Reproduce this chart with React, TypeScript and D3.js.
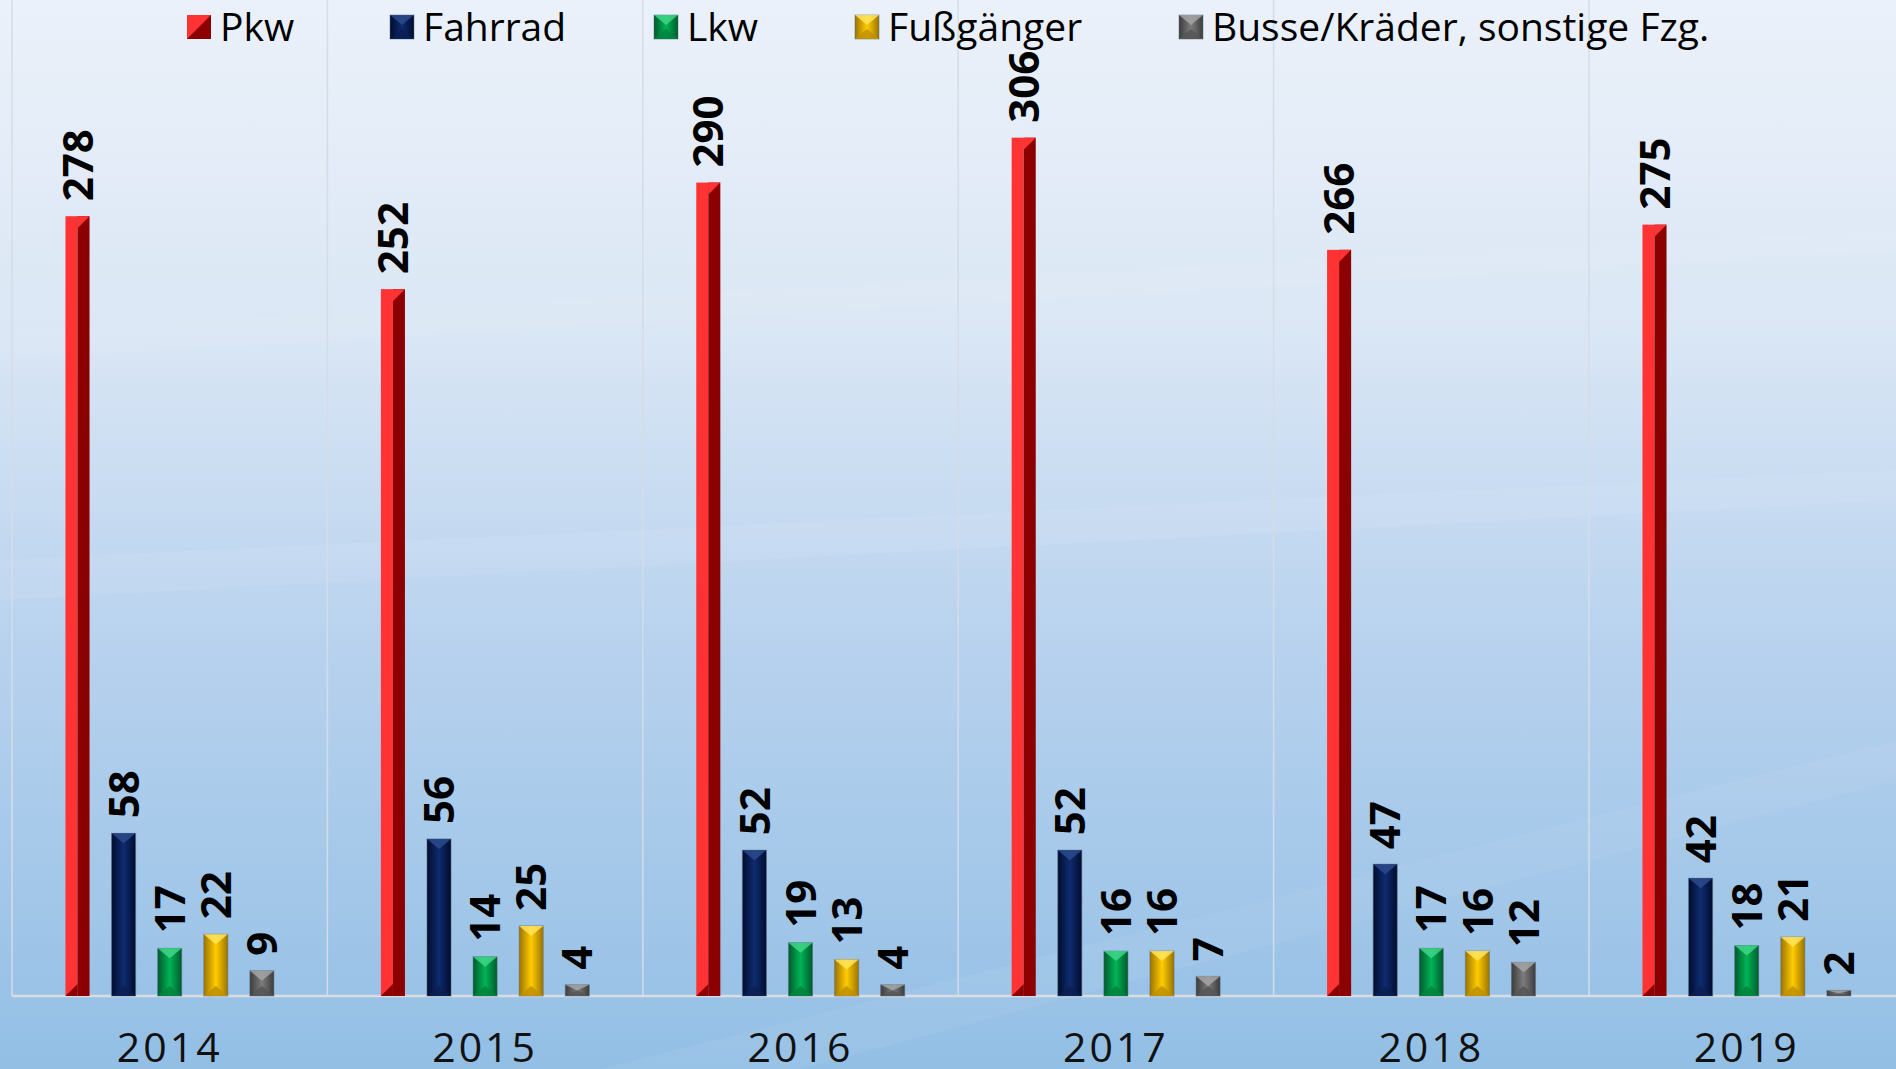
import React from "react";
import * as d3 from "d3";

const years = ["2014", "2015", "2016", "2017", "2018", "2019"];
const seriesNames = ["Pkw", "Fahrrad", "Lkw", "Fußgänger", "Busse/Kräder, sonstige Fzg."];
const pkw = [278, 252, 290, 306, 266, 275];
const fahrrad = [58, 56, 52, 52, 47, 42];
const lkw = [17, 14, 19, 16, 17, 18];
const fussgaenger = [22, 25, 13, 16, 16, 21];
const busse = [9, 4, 4, 7, 12, 2];
const seriesValues = [pkw, fahrrad, lkw, fussgaenger, busse];

// edge, middle, top facet, bottom facet
const palette = [
  { edge: "#8b0000", mid: "#ff3333", top: "#ff3333", bottom: "#8b0000" },
  { edge: "#000c2e", mid: "#0f2c70", top: "#2b4a8c", bottom: "#0a1e52" },
  { edge: "#005a2c", mid: "#00b456", top: "#3fd688", bottom: "#00823e" },
  { edge: "#9c7400", mid: "#ffcc00", top: "#ffe45a", bottom: "#c09000" },
  { edge: "#3c3c3c", mid: "#7c7c7c", top: "#a4a4a4", bottom: "#555555" },
];

const W = 1896;
const H = 1069;
const base = 996;
const left = 12;
const groupW = 315.4;
const legendX = [187, 390, 654, 855, 1179];

const x0 = d3.scaleBand<string>().domain(years).range([left, left + groupW * years.length]).padding(0);
const x1 = d3
  .scaleBand<number>()
  .domain(d3.range(seriesNames.length))
  .range([0, groupW])
  .paddingInner(0.478)
  .paddingOuter(1.16);
const y = d3.scaleLinear().domain([0, 350]).range([base, base - 350 * 2.805]);

function RedBar({ x, top, w, bottom }: { x: number; top: number; w: number; bottom: number }) {
  const h = bottom - top;
  const b = Math.min(w / 2, h / 2);
  const m = x + w / 2;
  return (
    <g>
      <rect x={x} y={top} width={w / 2} height={h} fill="#ff3333" />
      <rect x={m} y={top} width={w / 2} height={h} fill="#8b0000" />
      <polygon points={`${m},${top} ${x + w},${top} ${m},${top + b}`} fill="#ff3333" />
      <polygon points={`${x},${bottom} ${m},${bottom - b} ${m},${bottom}`} fill="#8b0000" />
    </g>
  );
}

function BevelBar({ i, x, top, w, bottom }: { i: number; x: number; top: number; w: number; bottom: number }) {
  const c = palette[i];
  const h = bottom - top;
  const b = Math.min(10, h / 2);
  const m = x + w / 2;
  return (
    <g>
      <rect x={x} y={top} width={w} height={h} fill={`url(#grad${i})`} stroke="rgba(90,110,130,0.5)" strokeWidth={1} />
      <polygon points={`${x},${top} ${x + w},${top} ${m},${top + b}`} fill={c.top} opacity={0.85} />
      <polygon points={`${x},${bottom} ${x + w},${bottom} ${m},${bottom - b}`} fill={c.bottom} opacity={0.85} />
    </g>
  );
}

export default function App() {
  const bw = x1.bandwidth();
  return (
    <div style={{ position: "fixed", left: 0, top: 0 }}>
      <svg width={W} height={H} style={{ display: "block" }}>
        <defs>
          <linearGradient id="bg" x1="0" y1="0" x2="0" y2="1">
            <stop offset="0" stopColor="#ebf1fa" />
            <stop offset="0.3" stopColor="#dbe7f5" />
            <stop offset="0.6" stopColor="#b8d2ee" />
            <stop offset="1" stopColor="#93bfe5" />
          </linearGradient>
          {palette.map((c, i) => (
            <linearGradient key={i} id={`grad${i}`} x1="0" y1="0" x2="1" y2="0">
              <stop offset="0" stopColor={c.edge} />
              <stop offset="0.5" stopColor={c.mid} />
              <stop offset="1" stopColor={c.edge} />
            </linearGradient>
          ))}
        </defs>
        <rect x={0} y={0} width={W} height={H} fill="url(#bg)" />
        {/* faint diagonal streaks of the background */}
        <polygon points={`0,560 ${W},470 ${W},500 0,600`} fill="#ffffff" opacity={0.07} />
        <polygon points={`0,330 ${W},230 ${W},250 0,360`} fill="#ffffff" opacity={0.06} />
        <polygon points={`600,${H} ${W},740 ${W},780 800,${H}`} fill="#ffffff" opacity={0.05} />

        {/* group separators */}
        {years.map((yr) => (
          <line key={yr} x1={x0(yr)} x2={x0(yr)} y1={0} y2={base} stroke="#d4dce6" strokeWidth={1.5} />
        ))}
        <line x1={left} x2={W} y1={base} y2={base} stroke="#d9dde2" strokeWidth={2.5} />

        {years.map((yr, gi) => (
          <g key={yr}>
            {seriesValues.map((vals, si) => {
              const v = vals[gi];
              const bx = (x0(yr) as number) + (x1(si) as number);
              const top = y(v);
              return (
                <g key={si}>
                  {si === 0 ? (
                    <RedBar x={bx} top={top} w={bw} bottom={base} />
                  ) : (
                    <BevelBar i={si} x={bx} top={top} w={bw} bottom={base} />
                  )}
                  <text
                    transform={`translate(${bx + bw / 2},${top - 15}) rotate(-90)`}
                    dy="0.36em"
                    fontFamily="'Open Sans', sans-serif"
                    fontWeight={700}
                    fontSize={42}
                    fill="#000"
                  >
                    {v}
                  </text>
                </g>
              );
            })}
            <text
              x={(x0(yr) as number) + groupW / 2}
              y={1062}
              textAnchor="middle"
              fontFamily="'Open Sans', sans-serif"
              fontSize={41}
              letterSpacing={3}
              fill="#111"
            >
              {yr}
            </text>
          </g>
        ))}

        {/* legend */}
        {seriesNames.map((name, i) => (
          <g key={name} transform={`translate(${legendX[i]},15)`}>
            {i === 0 ? (
              <RedBar x={0} top={0} w={24} bottom={24} />
            ) : (
              <BevelBar i={i} x={0} top={0} w={24} bottom={24} />
            )}
            <text x={33} y={26} fontFamily="'Open Sans', sans-serif" fontSize={39} fill="#000">
              {name}
            </text>
          </g>
        ))}
      </svg>
    </div>
  );
}
